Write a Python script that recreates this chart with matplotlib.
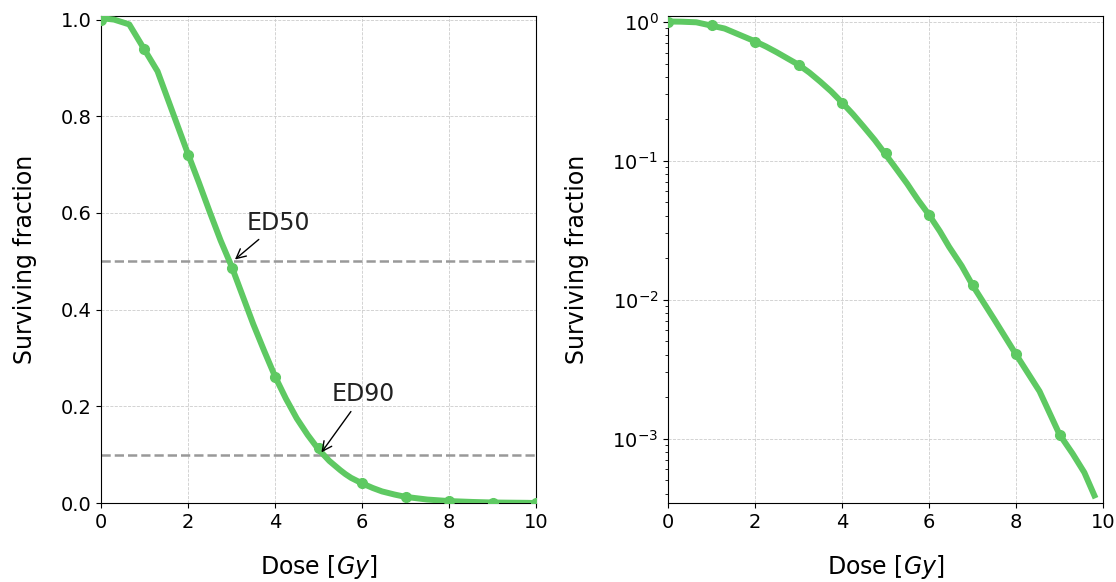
import numpy as np
import matplotlib
matplotlib.use("Agg")
import matplotlib.pyplot as plt

# Measured data points (dose in Gy, surviving fraction)
dose_points = [0, 1, 2, 3, 4, 5, 6, 7, 8, 9, 10]
sf_points = [1.0, 0.94, 0.72, 0.487, 0.26, 0.113, 0.0407, 0.0127, 0.00403, 0.00107, 0.0]

# Fitted curve
dose_curve = [0.0, 0.3, 0.65, 1.3, 2.0, 2.25, 2.5, 2.75, 3.0, 3.25, 3.5, 3.75, 4.0,
              4.25, 4.5, 4.75, 5.0, 5.25, 5.5, 5.62, 5.75, 6.0, 6.25, 6.46, 6.75,
              7.0, 7.5, 8.0, 8.54, 9.0, 9.3, 9.57, 9.8, 10.0]
sf_curve = [1.003, 1.0, 0.99, 0.893, 0.722, 0.663, 0.602, 0.543, 0.49, 0.43, 0.37,
            0.315, 0.262, 0.216, 0.175, 0.141, 0.111, 0.087, 0.068, 0.0597, 0.052,
            0.0407, 0.031, 0.024, 0.0175, 0.0127, 0.0072, 0.00403, 0.00219, 0.00107,
            0.00078, 0.00057, 0.00039, 0.0]

ed_levels = [0.5, 0.1]
ed_doses = [3.03, 5.03]
ed_names = ["ED50", "ED90"]
ed_text_pos = [(3.35, 0.565), (5.3, 0.21)]

color = "#5ec962"

fig = plt.figure(figsize=(11.16, 5.82), dpi=100)
ax1 = fig.add_axes([0.0905, 0.1357, 0.3898, 0.8373])
ax2 = fig.add_axes([0.5986, 0.1357, 0.3898, 0.8373])

dc = np.array(dose_curve)
sc = np.array(sf_curve)
dp = np.array(dose_points)
sp = np.array(sf_points)

# Left: linear
ax1.plot(dc, sc, color=color, lw=4.3, zorder=3, solid_joinstyle="round")
ax1.plot(dp, sp, 'o', color=color, ms=7, zorder=3)
for lvl in ed_levels:
    ax1.axhline(lvl, color="#999999", ls="--", lw=1.8, zorder=2)
for name, x, lvl, pos in zip(ed_names, ed_doses, ed_levels, ed_text_pos):
    ax1.annotate(name, xy=(x, lvl), xytext=pos, fontsize=17, color="#222222",
                 arrowprops=dict(arrowstyle="->", color="black", lw=1.0))
ax1.set_xlim(0, 10)
ax1.set_ylim(0, 1.008)
ax1.set_xticks([0, 2, 4, 6, 8, 10])
ax1.set_yticks([0.0, 0.2, 0.4, 0.6, 0.8, 1.0])

# Right: log
pos_c = sc > 0
pos_p = sp > 0
ax2.plot(dc[pos_c], sc[pos_c], color=color, lw=4.3, zorder=3, solid_joinstyle="round")
ax2.plot(dp[pos_p], sp[pos_p], 'o', color=color, ms=7, zorder=3)
ax2.set_yscale("log")
ax2.set_xlim(0, 10)
ax2.set_ylim(3.44e-4, 1.104)
ax2.set_xticks([0, 2, 4, 6, 8, 10])

for ax in (ax1, ax2):
    ax.grid(True, which="major", ls="--", color="#cccccc", lw=0.6, zorder=0)
    ax.set_axisbelow(True)
    ax.tick_params(labelsize=14)
    ax.set_xlabel("Dose [$Gy$]", fontsize=17, labelpad=15)
    ax.set_ylabel("Surviving fraction", fontsize=17, labelpad=17)

fig.savefig("out.png", dpi=100)
